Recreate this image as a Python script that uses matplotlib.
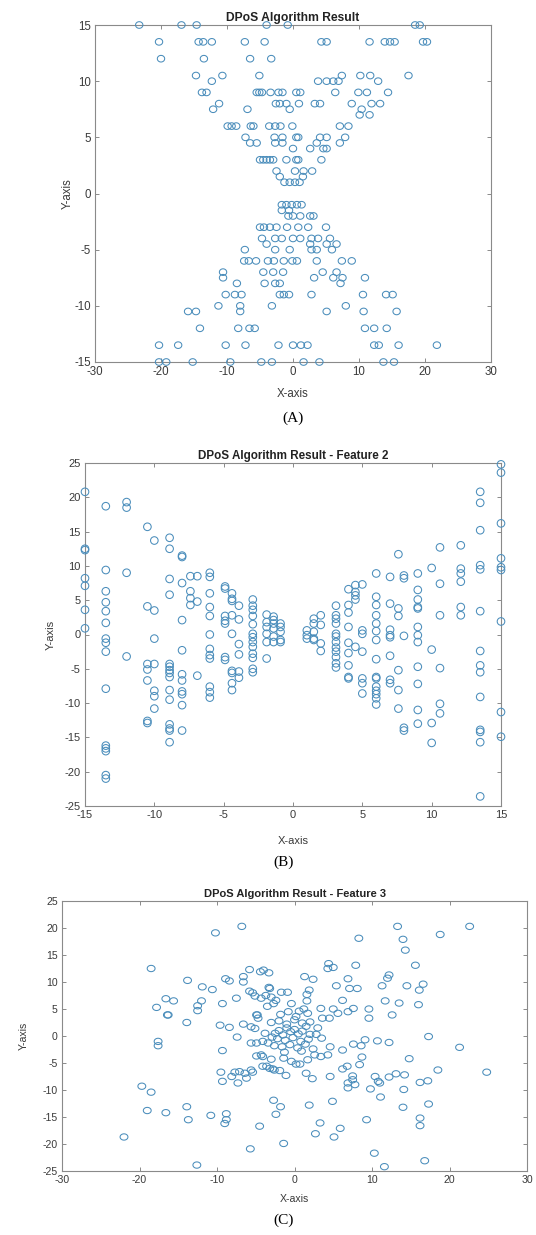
import matplotlib
matplotlib.use("Agg")
import numpy as np
import matplotlib.pyplot as plt
from matplotlib.path import Path

plt.rcParams['font.family'] = ['Liberation Sans', 'DejaVu Sans']
plt.rcParams['axes.unicode_minus'] = False

# ---------------- Panel A ----------------
xa = [-23.3, -16.9, -14.6, -4.0, -0.8, 18.5, 19.2,
      -20.3, -14.3, -13.6, -12.3, -7.3, -4.3, 4.3, 5.1, 11.6, 13.9, 14.7, 15.4, 19.7, 20.3,
      -20.0, -13.5, -6.5, -3.3,
      -14.7, -10.7, -5.1, 7.4, 10.2, 11.7, 17.5,
      -12.3, 3.8, 5.1, 6.1, 6.9, 12.9,
      -13.8, -13.1, -5.5, -5.1, -4.7, -3.4, -2.2, -1.6, 0.5, 1.1, 6.4, 9.9, 11.2, 14.4,
      -11.2, -2.6, -2.0, -1.0, 0.9, 3.3, 4.1, 8.9, 11.9, 13.2,
      -12.1, -6.9, -0.5, 10.4,
      10.1, 11.6,
      -9.9, -9.3, -8.6, -6.4, -6.0, -3.6, -2.7, -1.9, -0.1, 7.1, 8.4,
      -7.2, -2.8, -1.6, 0.5, 0.8, 4.1, 5.1, 7.9,
      -6.5, -5.5, -2.7, -1.6, 7.1, 3.6,
      0.0, 2.6, 4.6, 5.1,
      -5.0, -4.5, -4.0, -3.5, -3.0, -1.0, 0.5, 0.8, 4.3,
      -2.5, 0.3, 1.6, 2.9,
      -2.0, 1.5,
      -1.3, -0.5, 0.3, 1.0,
      -1.7, -1.0, -0.2, 0.6, 1.3,
      -1.7, -0.6,
      0.0, -0.7, 1.1, 2.6, 3.1,
      -5.0, -4.4, -3.5, -2.5, -0.9, 0.8, 2.3, 5.0,
      -4.7, -2.7, -1.7, 0.0, 1.1, 2.8, 3.8, 5.6,
      -4.0, 2.6, 5.1, 6.6,
      -7.3, -2.7, -0.5, 2.8, 3.6, 5.9,
      -7.4, -6.7, -5.6, -3.8, -2.9, -1.4, -0.1, 0.6, 3.6, 7.4, 8.9,
      -10.6, -4.5, -3.0, -1.5, 4.5, 6.6,
      -10.6, 3.2, 6.1, 7.5, 10.9,
      -8.5, -4.3, -2.7, -2.0, 7.2,
      -10.2, -8.8, -7.8, -2.0, -1.4, -0.6, 2.8, 10.6, 14.1, 15.1,
      -11.3, -8.0, -3.2, 8.0,
      -15.9, -14.7, -8.0, 5.1, 10.7, 15.7,
      -14.1, -8.3, -6.6, -5.8, 10.9, 12.3, 14.2,
      -20.3, -17.4, -10.2, -7.2, -2.2, 0.0, 1.2, 2.2, 12.3, 13.0, 16.0, 21.8,
      -20.3, -19.2, -15.2, -9.5, -4.8, -3.2, 1.6, 4.0, 13.7, 15.3]
ya = [15, 15, 15, 15, 15, 15, 15,
      13.5, 13.5, 13.5, 13.5, 13.5, 13.5, 13.5, 13.5, 13.5, 13.5, 13.5, 13.5, 13.5, 13.5,
      12, 12, 12, 12,
      10.5, 10.5, 10.5, 10.5, 10.5, 10.5, 10.5,
      10, 10, 10, 10, 10, 10,
      9, 9, 9, 9, 9, 9, 9, 9, 9, 9, 9, 9, 9, 9,
      8, 8, 8, 8, 8, 8, 8, 8, 8, 8,
      7.5, 7.5, 7.5, 7.5,
      7, 7,
      6, 6, 6, 6, 6, 6, 6, 6, 6, 6, 6,
      5, 5, 5, 5, 5, 5, 5, 5,
      4.5, 4.5, 4.5, 4.5, 4.5, 4.5,
      4, 4, 4, 4,
      3, 3, 3, 3, 3, 3, 3, 3, 3,
      2, 2, 2, 2,
      1.5, 1.5,
      1, 1, 1, 1,
      -1, -1, -1, -1, -1,
      -1.5, -1.5,
      -2, -2, -2, -2, -2,
      -3, -3, -3, -3, -3, -3, -3, -3,
      -4, -4, -4, -4, -4, -4, -4, -4,
      -4.5, -4.5, -4.5, -4.5,
      -5, -5, -5, -5, -5, -5,
      -6, -6, -6, -6, -6, -6, -6, -6, -6, -6, -6,
      -7, -7, -7, -7, -7, -7,
      -7.5, -7.5, -7.5, -7.5, -7.5,
      -8, -8, -8, -8, -8,
      -9, -9, -9, -9, -9, -9, -9, -9, -9, -9,
      -10, -10, -10, -10,
      -10.5, -10.5, -10.5, -10.5, -10.5, -10.5,
      -12, -12, -12, -12, -12, -12, -12,
      -13.5, -13.5, -13.5, -13.5, -13.5, -13.5, -13.5, -13.5, -13.5, -13.5, -13.5, -13.5,
      -15, -15, -15, -15, -15, -15, -15, -15, -15, -15]

# ---------------- Panel B (Feature 2) ----------------
xb_cols = [-15, -13.5, -12, -10.5, -10, -8.9, -8, -7.4, -6.9, -6, -4.9, -4.4, -3.9,
           -2.9, -1.9, -1.4, -0.9,
           1, 1.5, 2, 3.1, 4, 4.5, 5, 6, 7, 7.6, 8, 9, 10, 10.6, 12.1, 13.5, 15]
yb_cols = [
    [20.8, 12.5, 12.3, 8.2, 7.1, 3.6, 0.9],
    [18.7, 9.4, 6.3, 4.7, 3.4, 1.7, -0.6, -1.2, -2.5, -7.9, -16.2, -16.6, -17, -20.5, -21],
    [19.3, 18.5, 9, -3.2],
    [15.7, 4.1, -4.3, -5.1, -6.7, -12.6, -12.9],
    [13.7, 3.5, -0.6, -4.3, -8.2, -9, -10.8],
    [14.1, 12.5, 8.1, 5.8, -4.3, -4.7, -5.2, -5.6, -6.2, -8.1, -9.5, -13.1, -13.7, -14, -15.7],
    [11.5, 11.3, 7.5, 2.1, -2.3, -5.8, -6.7, -8.3, -8.7, -10.3, -14],
    [8.5, 6.3, 5.3, 4.3],
    [8.5, 4.8, -6],
    [9, 8.4, 6, 4, 2.7, 0, -2.1, -3.0, -3.5, -7.6, -8.4, -9.2],
    [7.0, 6.7, 2.7, 2.0, 1.6, -3.3, -3.7],
    [6, 5.2, 4.9, 2.8, 0.1, -5.3, -5.6, -7.1, -8.1],
    [4.2, 2.2, -1.4, -2.9, -5.4, -6.3],
    [5.1, 4.2, 3.6, 2.7, 1.5, 0.1, -0.4, -1.1, -1.8, -2.8, -3.4, -5, -5.5],
    [2.9, 1.8, 1.1, 0.1, -1.1, -3.5],
    [2.6, 2.1, 1.6, 0.9, -0.3, -1.1],
    [1.6, 1.1, 0.4, -0.8, -1.1],
    [0.6, -0.1, -0.6],
    [2.3, 1.6, 0.4, -0.6, -0.8],
    [2.8, 1.4, -1.3, -2.4],
    [4.2, 2.8, 2.3, 1.6, 0.1, -0.3, -1.1, -1.9, -2.5, -3.3, -4.2, -4.8],
    [6.6, 4.3, 3.2, 1.1, -1.2, -2.7, -4.5, -6.2, -6.4],
    [7.2, 6.2, 5.7, 5.1, -1.8],
    [7.3, 0.6, 0.1, -2.5, -6.4, -7.1, -8.6],
    [8.9, 5.5, 4.3, 2.8, 1.6, 0.5, -0.8, -3.6, -6.2, -6.4, -7.6, -8.2, -8.7, -9.3, -10.2],
    [8.4, 4.5, 0.7, -0.1, -0.4, -3.1, -6.6, -7.1],
    [11.7, 3.8, 2.7, -5.2, -8.1, -10.8],
    [8.6, 8.2, -0.2, -13.6, -14],
    [8.9, 6.5, 5.1, 4.0, 3.8, 1.1, -0.1, -1.1, -4.7, -7.2, -11, -13],
    [9.7, -2.2, -12.9, -15.8],
    [12.7, 7.4, 2.8, -4.9, -10.1, -11.5],
    [13, 9.6, 8.9, 7.7, 4, 2.8],
    [20.8, 19.2, 15.2, 10.1, 9.5, 3.4, -2.4, -4.5, -5.5, -9.1, -13.9, -14.2, -15.7, -23.6],
    [24.8, 23.6, 16.2, 11.1, 9.8, 9.4, 1.9, -11.3, -14.9],
]
xb = [x for x, col in zip(xb_cols, yb_cols) for _ in col]
yb = [y for col in yb_cols for y in col]

# ---------------- Panel C (Feature 3) ----------------
xc = [-18.5, -10.2, -6.8, -13.8, -16.6, -15.6, -17.8, -16.4, -11.9, -10.6, -12.5, -12.5, -12.0,
      -9.3, -8.9, -8.4, -7.5, -6.6, -6.6, -5.8, -5.8, -5.4, -5.1, -4.4, -4.0, -3.3, -3.3,
      -4.8, -4.3, -3.7, -3.0, -2.4, -3.5, -2.7,
      13.3, 22.6, 18.8, 8.3, 14.0, 14.3, 4.4, 5.0, 4.3, 7.9, 15.6, 12.2, 12.0, 1.3, 2.4,
      6.9, 5.4, 7.1, 8.1, 11.3, 14.5, 16.6, 16.1, 1.9, 1.6, 6.2, 11.7, 13.5, 16.0, 3.4,
      5.0, 7.6, 9.6, -1.7, -0.9, -3.2,
      12.6, 5.6, 6.9, 0.6, 1.7, 3.6, 4.5, 9.6,
      17.3, 21.3, 24.8, 18.5, 14.8, 10.7, 12.2, 9.1, 8.6, 7.6, 8.7, 8.4, 6.2, 6.2, 6.8,
      7.5, 7.5, 6.9, 6.9, 7.8, 4.6, 4.6, 10.4, 10.8, 11.0, 12.2, 13.1, 14.2, 16.2, 17.2,
      9.8, 11.1, 14.1, 14.0, 17.3, 16.2, 16.2, 9.3, 4.9, 1.9, 3.3, 2.7, 5.1, 5.9, -1.4,
      10.3, 11.6, 16.8, -2.7, -1.8, -2.4, -4.5, 1.5, 2.3, -1.1, 0.7, 0.2, -0.4, 3.4, 4.3,
      2.6, 1.7, -1.4, -3.0, -4.3, -3.6, -2.8, -1.9,
      -17.6, -17.6, -16.3, -13.9, -9.6, -8.4, -9.3, -7.4, -6.6, -5.6, -5.1, -4.9, -4.7,
      -5.6, -4.9, -4.1, -3.4, -4.9, -4.1, -9.5, -9.3, -8.1, -7.7, -7.1, -6.4, -7.3, -6.2,
      -5.6, -5.4, -4.1, -3.2, -2.6, -19.7, -18.5, -19.0, -16.6, -13.9, -13.7, -10.8,
      -8.8, -8.8, -9.0, -5.7, -22.0, -12.6,
      # dense centre
      -2.5, -2.0, -1.5, -1.0, -0.5, 0.0, 0.5, 1.0, 1.5, 2.0, -2.2, -1.2, -0.2, 0.8, 1.8,
      -3.0, -2.0, -1.0, 0.0, 1.0, 2.0, 3.0, -2.6, -1.6, -0.6, 0.4, 1.4, 2.4,
      -1.8, -0.8, 0.2, 1.2, -3.8, -2.9, 2.8, 3.5, -1.3, 0.9, -0.4, 1.6]
yc = [12.5, 19.1, 20.3, 10.3, 6.9, 6.5, 5.3, 3.9, 9.1, 8.6, 5.6, 4.7, 6.5,
      6.0, 10.6, 10.2, 7.0, 11.0, 10.0, 12.3, 8.3, 8.0, 7.4, 11.9, 12.2, 11.7, 9.0,
      3.9, 7.0, 7.5, 7.2, 6.6, 5.5, 6.0,
      20.3, 20.3, 18.8, 18.1, 17.9, 15.9, 13.4, 12.7, 12.5, 13.1, 13.1, 11.3, 10.7, 11.0, 10.5,
      10.6, 9.3, 8.8, 8.8, 9.3, 9.3, 9.6, 8.5, 8.5, 7.7, 6.6, 6.5, 6.1, 5.8, 5.1,
      5.0, 5.1, 5.0, 8.1, 8.1, 8.8,
      3.9, 4.2, 4.5, 4.6, 4.2, 3.3, 3.3, 3.3,
      -0.1, -2.1, -6.7, -6.3, -4.2, -0.9, -1.2, -0.7, -1.8, -1.5, -3.9, -5.3, -2.6, -6.1, -5.6,
      -7.4, -8.1, -8.7, -9.6, -9.0, -2.0, -7.5, -7.5, -8.4, -8.7, -7.6, -7.0, -7.2, -8.6, -8.3,
      -9.8, -11.3, -9.9, -13.2, -12.6, -15.2, -16.6, -15.5, -12.1, -12.8, -16.1, -18.1, -18.7, -17.1, -19.9,
      -21.7, -24.2, -23.1, -11.9, -13.1, -14.5, -16.7, -6.9, -7.9, -7.3, -5.2, -5.2, -4.7, -3.8, -3.5,
      -3.5, -4.4, -4.1, -4.3, -3.5, -5.6, -6.1, -6.4,
      -1.0, -1.8, 3.9, 2.5, 2.0, 1.6, -2.7, -0.2, 2.2, 1.7, 1.4, 3.9, 3.3,
      -1.3, -1.3, -1.0, -1.3, -3.7, -3.8, -6.7, -8.4, -7.5, -6.7, -6.6, -6.9, -8.7, -7.8,
      -6.3, -6.7, -5.6, -6.0, -6.3, -9.3, -10.4, -13.8, -14.2, -13.1, -15.5, -14.7,
      -14.4, -15.5, -16.2, -20.9, -18.7, -23.9,
      # dense centre
      0.5, 1.0, 0.2, 1.5, 0.8, 1.2, 0.4, 0.9, 1.8, 0.3, -0.5, -0.8, -0.3, -1.0, -0.6,
      2.5, 2.8, 2.2, 3.0, 2.4, 2.6, 1.5, -1.8, -2.0, -1.6, -2.2, -1.5, -2.4,
      4.0, 4.5, 3.6, 5.0, 0.5, -0.2, 0.3, -0.4, -3.0, -2.8, 6.0, 6.5]

# ---------------- drawing ----------------
W, H = 536, 1235
fig = plt.figure(figsize=(W / 100, H / 100), dpi=100)

def box(l, r, t, b):
    return [l / W, 1 - b / H, (r - l) / W, (b - t) / H]

def ellipse_marker(squash):
    t = np.linspace(0, 2 * np.pi, 64)
    verts = np.column_stack([np.cos(t), squash * np.sin(t)])
    return Path(verts, closed=True)

circle_color = '#4a8dbb'
spine_color = '#8a8a8a'
text_color = '#3a3a3a'

panels = [
    dict(rect=box(95, 491, 25, 362), x=xa, y=ya, xlim=(-30, 30), ylim=(-15, 15),
         xt=range(-30, 31, 10), yt=range(-15, 16, 5), title='DPoS Algorithm Result',
         fs=8.3, ms=28, mk=ellipse_marker(0.9), xlab=(0.5, -0.077), ylab=(-0.053, 0.5),
         tag='(A)', tag_y=418, tag_x=293),
    dict(rect=box(85, 501, 463, 806), x=xb, y=yb, xlim=(-15, 15), ylim=(-25, 25),
         xt=range(-15, 16, 5), yt=range(-25, 26, 5), title='DPoS Algorithm Result - Feature 2',
         fs=8.0, ms=30, mk='o', xlab=(0.5, -0.088), ylab=(-0.07, 0.5),
         tag='(B)', tag_y=862, tag_x=284),
    dict(rect=box(62, 527, 901, 1171), x=xc, y=yc, xlim=(-30, 30), ylim=(-25, 25),
         xt=range(-30, 31, 10), yt=range(-25, 26, 5), title='DPoS Algorithm Result - Feature 3',
         fs=7.6, ms=32, mk=ellipse_marker(0.8), xlab=(0.5, -0.085), ylab=(-0.071, 0.5),
         tag='(C)', tag_y=1220, tag_x=284),
]

for p in panels:
    ax = fig.add_axes(p['rect'])
    ax.scatter(p['x'], p['y'], s=p['ms'], marker=p['mk'], facecolors='none',
               edgecolors=circle_color, linewidths=0.75, clip_on=False, zorder=3)
    ax.set_xlim(*p['xlim'])
    ax.set_ylim(*p['ylim'])
    ax.set_xticks(list(p['xt']))
    ax.set_yticks(list(p['yt']))
    ax.tick_params(direction='in', length=3, width=0.7, color=spine_color,
                   labelsize=p['fs'], labelcolor=text_color, top=True, right=True,
                   labeltop=False, labelright=False, pad=3)
    for s in ax.spines.values():
        s.set_color(spine_color)
        s.set_linewidth(0.8)
    ax.set_title(p['title'], fontsize=p['fs'] + 0.4, fontweight='bold', color='#222222', pad=3)
    ax.set_xlabel('X-axis', fontsize=p['fs'], color=text_color)
    ax.set_ylabel('Y-axis', fontsize=p['fs'], color=text_color)
    ax.xaxis.set_label_coords(*p['xlab'])
    ax.yaxis.set_label_coords(*p['ylab'])
    fig.text(p['tag_x'] / W, 1 - p['tag_y'] / H, p['tag'], ha='center', va='center',
             fontsize=11, family=['Liberation Serif', 'DejaVu Serif'], color='black')

fig.savefig('out.png', dpi=100)
